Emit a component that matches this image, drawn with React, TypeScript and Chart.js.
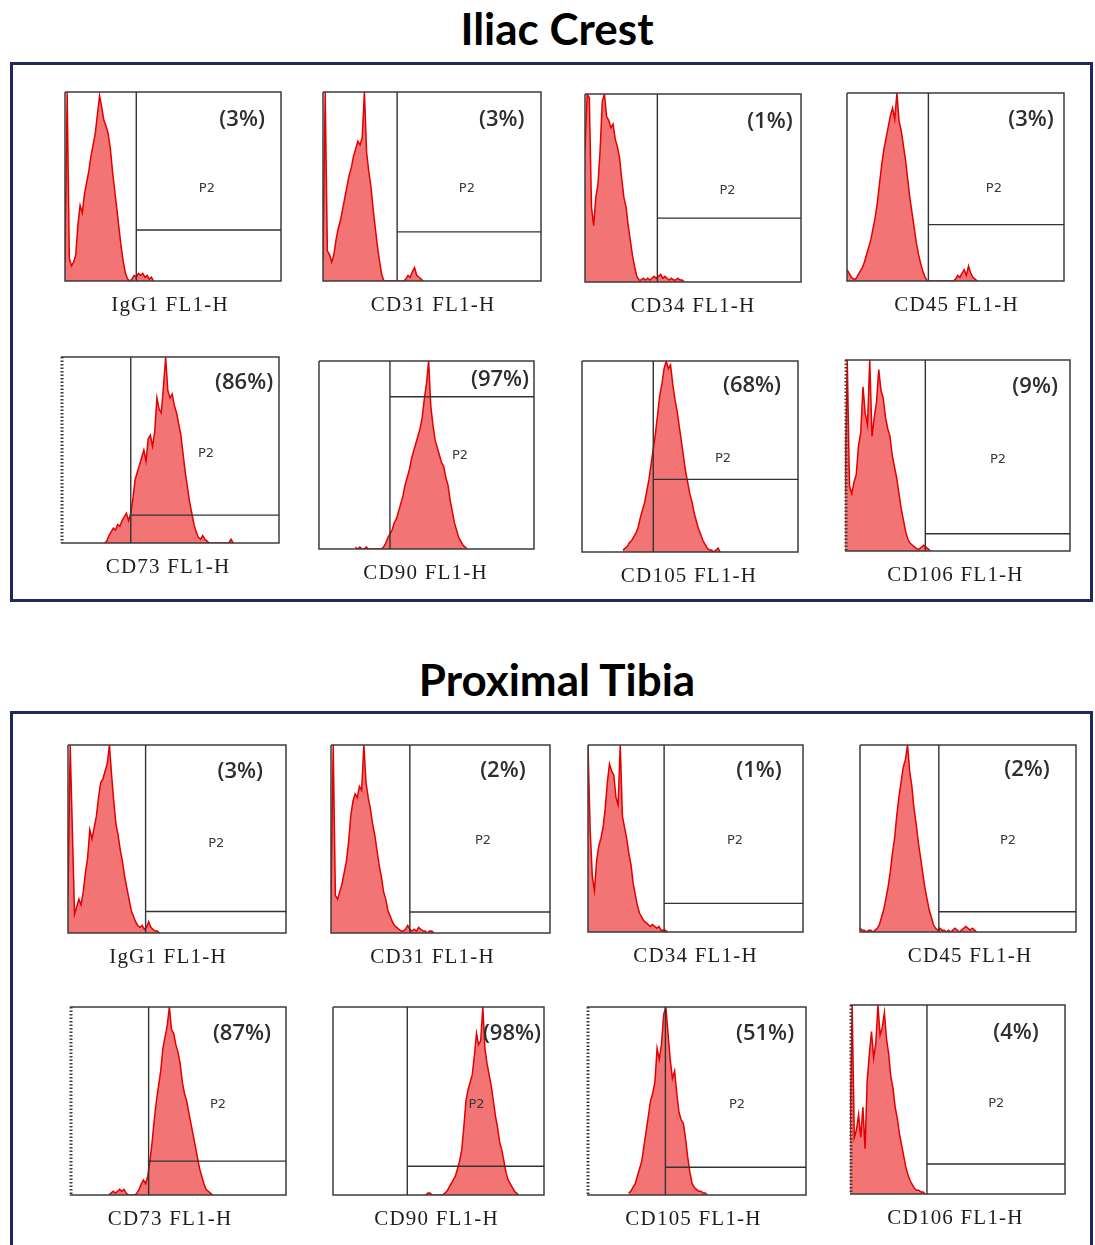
import React, { useEffect, useRef } from 'react';
import { Chart, registerables } from 'chart.js';

Chart.register(...registerables);

// ---------- DATA ----------
const panelTitles = ['Iliac Crest', 'Proximal Tibia'];
const markers = ['IgG1', 'CD31', 'CD34', 'CD45', 'CD73', 'CD90', 'CD105', 'CD106'];
const channel = 'FL1-H';
const gateName = 'P2';

const icPositive = ['(3%)', '(3%)', '(1%)', '(3%)', '(86%)', '(97%)', '(68%)', '(9%)'];
const ptPositive = ['(3%)', '(2%)', '(1%)', '(2%)', '(87%)', '(98%)', '(51%)', '(4%)'];

// gate (marker) positions in data units (x: channel 0-100, y: % of max count)
const icGateX = [33, 34, 33.5, 37.5, 32, 33, 33, 35.7];
const icGateY = [27, 26, 34, 30, 15, 81, 38, 9];
const ptGateX = [35.6, 36, 35.4, 36.5, 36.4, 35.2, 35.8, 35.8];
const ptGateY = [11.4, 11.2, 15.3, 10.8, 18, 15.3, 14.8, 15.9];

// first channel of each histogram array
const icStart = [0, 0, 0, 0, 20, 17, 19, 0];
const ptStart = [0, 0, 0, 0, 18, 44, 19, 0];

// Iliac Crest histograms (% of peak count per channel)
const icIgG1 = [10, 100, 12, 8, 10, 14, 30, 40, 36, 46, 52, 58, 66, 72, 78, 88, 98, 92, 85, 82, 78, 70, 58, 48, 38, 28, 18, 10, 4, 1, 0, 1, 3, 2, 4, 3, 4, 2, 3, 1, 2, 0];
const icCD31 = [12, 100, 16, 14, 10, 14, 22, 28, 32, 38, 44, 50, 56, 60, 66, 70, 74, 72, 76, 100, 68, 58, 50, 38, 28, 18, 10, 3, 0, 0, 0, 0, 0, 0, 0, 0, 0, 0, 1, 3, 2, 5, 7, 3, 2, 1, 0];
const icCD34 = [70, 100, 98, 40, 30, 45, 52, 70, 96, 100, 88, 86, 82, 84, 76, 72, 66, 55, 45, 40, 30, 22, 14, 8, 3, 1, 1, 2, 1, 2, 1, 2, 3, 2, 3, 4, 2, 3, 2, 1, 2, 1, 1, 2, 1, 1, 0];
const icCD45 = [6, 4, 2, 1, 1, 3, 5, 7, 10, 14, 18, 22, 28, 34, 42, 52, 62, 70, 76, 82, 88, 92, 86, 100, 85, 80, 72, 64, 54, 44, 36, 28, 20, 14, 9, 5, 2, 0, 0, 0, 0, 0, 0, 0, 0, 0, 0, 0, 0, 0, 1, 3, 2, 4, 6, 3, 8, 4, 2, 1, 0];
const icCD73 = [0, 1, 4, 6, 8, 7, 10, 9, 12, 14, 16, 12, 16, 24, 34, 38, 42, 46, 50, 44, 56, 58, 52, 60, 78, 72, 70, 84, 100, 82, 78, 80, 74, 70, 64, 58, 48, 38, 30, 22, 16, 10, 6, 3, 2, 4, 2, 1, 0, 0, 0, 0, 0, 0, 0, 0, 0, 0, 2, 0];
const icCD90 = [1, 0, 1, 0, 0, 1, 0, 0, 0, 0, 0, 0, 0, 1, 3, 6, 8, 10, 14, 16, 20, 24, 28, 34, 38, 42, 48, 52, 56, 60, 64, 70, 80, 88, 100, 76, 66, 58, 54, 50, 46, 44, 38, 34, 26, 20, 14, 10, 6, 4, 2, 1, 0];
const icCD105 = [1, 2, 3, 5, 6, 8, 10, 13, 18, 22, 26, 32, 38, 46, 54, 62, 72, 82, 88, 96, 100, 96, 98, 88, 80, 74, 66, 58, 50, 42, 36, 30, 26, 20, 16, 12, 9, 6, 4, 2, 1, 1, 0, 1, 2, 0];
const icCD106 = [30, 100, 34, 30, 36, 40, 55, 62, 86, 72, 66, 100, 60, 70, 78, 95, 84, 80, 70, 64, 60, 50, 44, 38, 30, 22, 16, 10, 6, 4, 3, 2, 1, 1, 2, 3, 2, 1, 0];

// Proximal Tibia histograms
const ptIgG1 = [20, 100, 55, 10, 14, 18, 15, 22, 32, 40, 55, 50, 56, 62, 72, 80, 82, 86, 90, 100, 84, 70, 58, 52, 44, 38, 30, 24, 18, 12, 9, 6, 4, 3, 4, 2, 3, 6, 3, 2, 1, 1, 0];
const ptCD31 = [18, 100, 20, 18, 22, 26, 32, 38, 48, 62, 70, 74, 72, 78, 76, 100, 80, 72, 66, 58, 52, 44, 36, 30, 22, 18, 12, 9, 6, 4, 3, 2, 1, 1, 2, 4, 2, 1, 2, 1, 3, 2, 1, 1, 0, 1, 1, 0];
const ptCD34 = [100, 55, 30, 22, 38, 46, 50, 56, 66, 80, 90, 86, 84, 72, 68, 100, 62, 56, 50, 42, 36, 26, 20, 14, 10, 8, 6, 5, 4, 3, 4, 3, 2, 3, 1, 1, 1, 0];
const ptCD45 = [2, 1, 1, 0, 1, 1, 0, 1, 2, 4, 8, 12, 18, 24, 32, 42, 50, 62, 72, 80, 88, 92, 100, 86, 78, 66, 58, 48, 40, 32, 24, 18, 12, 8, 4, 2, 1, 2, 1, 1, 0, 1, 0, 1, 2, 1, 0, 1, 2, 3, 2, 1, 2, 1, 0];
const ptCD73 = [0, 1, 2, 1, 2, 3, 2, 3, 1, 0, 0, 0, 0, 1, 3, 6, 8, 6, 10, 18, 28, 40, 50, 58, 66, 78, 84, 90, 100, 88, 86, 80, 76, 70, 60, 54, 50, 44, 38, 32, 26, 20, 14, 10, 6, 3, 2, 1, 0];
const ptCD90 = [0, 1, 1, 0, 0, 0, 0, 0, 0, 1, 2, 4, 6, 8, 10, 14, 18, 24, 36, 50, 56, 60, 64, 74, 86, 80, 82, 100, 78, 70, 64, 58, 50, 42, 36, 28, 24, 18, 12, 8, 6, 4, 2, 1, 0];
const ptCD105 = [1, 2, 4, 6, 10, 14, 18, 26, 34, 42, 50, 54, 60, 78, 72, 80, 96, 100, 86, 72, 62, 66, 54, 44, 40, 38, 30, 20, 12, 6, 4, 3, 2, 2, 1, 1, 0];
const ptCD106 = [28, 100, 30, 34, 42, 30, 46, 24, 60, 74, 86, 72, 80, 100, 84, 88, 96, 82, 74, 62, 56, 46, 40, 32, 26, 20, 14, 10, 7, 5, 3, 2, 2, 1, 1, 0];

const icSeries = [icIgG1, icCD31, icCD34, icCD45, icCD73, icCD90, icCD105, icCD106];
const ptSeries = [ptIgG1, ptCD31, ptCD34, ptCD45, ptCD73, ptCD90, ptCD105, ptCD106];

// ---------- LAYOUT ----------
// plot frames: [left, top, width, height] in page pixels
const icFrames = [
  [65, 92, 216, 187], [323, 92, 218, 187], [585, 94, 216, 186], [847, 93, 217, 186],
  [61, 357, 218, 184], [319, 361, 215, 186], [582, 361, 216, 189], [845, 360, 225, 189],
];
const ptFrames = [
  [68, 745, 218, 186], [331, 745, 219, 186], [588, 745, 215, 185], [860, 745, 216, 185],
  [70, 1007, 216, 186], [333, 1007, 211, 186], [587, 1007, 219, 186], [850, 1005, 215, 187],
];
// percentage label and P2 label anchor in axis units
const icPctPos = [[82, 85.5], [82, 85.5], [85.6, 85.5], [84.8, 86], [84, 86.4], [84.2, 89.8], [78.7, 87], [84.5, 86]];
const icP2Pos = [[65.7, 48.7], [66, 48.7], [66, 48.4], [67.7, 49], [66.5, 48], [65.6, 49.5], [65.3, 49], [68, 48]];
const ptPctPos = [[79, 86], [78.5, 86.5], [79.5, 86], [77.3, 87], [79.6, 86], [84.8, 86], [81.3, 86], [77.2, 85.5]];
const ptP2Pos = [[68, 47.8], [69.4, 49], [68.4, 48.6], [68.5, 49], [68.5, 48], [68, 48], [68.5, 48], [68, 47.6]];
const icLabelDx = [-3, 1, 0, 1, -2, -1, -1, -2];
const ptLabelDx = [-9, -8, 0, 2, -8, -2, -3, -2];
const icDotted = [false, false, false, false, true, false, false, true];
const ptDotted = [false, false, false, false, true, false, true, true];

const gatePlugin = {
  id: 'flowGate',
  afterDraw(chart: any, _args: any, o: any) {
    const { ctx, chartArea: a, scales } = chart;
    const xs = scales.x;
    const ys = scales.y;
    ctx.save();
    ctx.strokeStyle = '#3c3c3c';
    ctx.lineWidth = 1.5;
    ctx.beginPath();
    ctx.moveTo(a.left, a.top);
    ctx.lineTo(a.right, a.top);
    ctx.lineTo(a.right, a.bottom);
    ctx.lineTo(a.left, a.bottom);
    if (!o.dotted) ctx.lineTo(a.left, a.top);
    ctx.stroke();
    if (o.dotted) {
      ctx.setLineDash([1.5, 2]);
      ctx.lineWidth = 3;
      ctx.beginPath();
      ctx.moveTo(a.left + 1, a.top);
      ctx.lineTo(a.left + 1, a.bottom);
      ctx.stroke();
      ctx.setLineDash([]);
    }
    const gx = xs.getPixelForValue(o.gateX);
    const gy = ys.getPixelForValue(o.gateY);
    ctx.strokeStyle = '#333';
    ctx.lineWidth = 1.4;
    ctx.beginPath();
    ctx.moveTo(gx, a.top);
    ctx.lineTo(gx, a.bottom);
    ctx.moveTo(gx, gy);
    ctx.lineTo(a.right, gy);
    ctx.stroke();

    ctx.textAlign = 'center';
    ctx.textBaseline = 'middle';
    ctx.fillStyle = '#2e2e2e';
    ctx.font = '600 22px "Open Sans"';
    ctx.fillText(o.pct, xs.getPixelForValue(o.pctPos[0]), ys.getPixelForValue(o.pctPos[1]));
    ctx.fillStyle = '#3a3a3a';
    ctx.font = '13px "DejaVu Sans"';
    ctx.fillText(o.gate, xs.getPixelForValue(o.p2Pos[0]), ys.getPixelForValue(o.p2Pos[1]));
    ctx.fillStyle = '#1e1e1e';
    ctx.font = '21px "Liberation Serif"';
    try { ctx.letterSpacing = '1.2px'; } catch (e) { /* ignore */ }
    ctx.fillText(o.label, (a.left + a.right) / 2 + o.labelDx, a.bottom + 24);
    ctx.restore();
  },
};

type Spec = {
  values: number[]; start: number; gateX: number; gateY: number; pct: string; label: string;
  frame: number[]; pctPos: number[]; p2Pos: number[]; labelDx: number; dotted: boolean;
};

function buildSpecs(): Spec[] {
  const out: Spec[] = [];
  const groups = [
    { series: icSeries, start: icStart, gx: icGateX, gy: icGateY, pct: icPositive, frames: icFrames, pp: icPctPos, p2: icP2Pos, dx: icLabelDx, dot: icDotted },
    { series: ptSeries, start: ptStart, gx: ptGateX, gy: ptGateY, pct: ptPositive, frames: ptFrames, pp: ptPctPos, p2: ptP2Pos, dx: ptLabelDx, dot: ptDotted },
  ];
  groups.forEach((g) => {
    markers.forEach((m, i) => {
      out.push({
        values: g.series[i], start: g.start[i], gateX: g.gx[i], gateY: g.gy[i], pct: g.pct[i],
        label: m + ' ' + channel, frame: g.frames[i], pctPos: g.pp[i], p2Pos: g.p2[i], labelDx: g.dx[i], dotted: g.dot[i],
      });
    });
  });
  return out;
}

function Histogram({ spec }: { spec: Spec }) {
  const ref = useRef<HTMLCanvasElement | null>(null);
  useEffect(() => {
    if (!ref.current) return;
    const chart = new Chart(ref.current, {
      type: 'line',
      data: {
        datasets: [{
          data: spec.values.map((v, i) => ({ x: spec.start + i, y: v })),
          borderColor: '#e40000',
          borderWidth: 1.5,
          backgroundColor: 'rgba(241, 104, 104, 0.92)',
          fill: 'origin',
          pointRadius: 0,
          tension: 0,
        }],
      },
      options: {
        responsive: false,
        animation: false,
        devicePixelRatio: 1,
        events: [],
        layout: { padding: { left: 2, right: 2, top: 2, bottom: 42 } },
        scales: {
          x: { type: 'linear', min: 0, max: 100, display: false },
          y: { min: 0, max: 100, display: false },
        },
        plugins: {
          legend: { display: false },
          tooltip: { enabled: false },
          flowGate: {
            gateX: spec.gateX, gateY: spec.gateY, pct: spec.pct, gate: gateName, label: spec.label,
            pctPos: spec.pctPos, p2Pos: spec.p2Pos, labelDx: spec.labelDx, dotted: spec.dotted,
          },
        } as any,
      },
      plugins: [gatePlugin as any],
    });
    return () => chart.destroy();
  }, [spec]);
  const [x, y, w, h] = spec.frame;
  return (
    <canvas
      ref={ref}
      width={w + 4}
      height={h + 46}
      style={{ position: 'absolute', left: x - 2, top: y - 2 }}
    />
  );
}

const specs = buildSpecs();

const titleStyle = (top: number): React.CSSProperties => ({
  position: 'absolute', left: 0, top, width: 1114, textAlign: 'center',
  font: 'bold 44px Lato', lineHeight: '44px', color: '#000', whiteSpace: 'nowrap',
});
const panelStyle = (top: number, height: number): React.CSSProperties => ({
  position: 'absolute', left: 10, top, width: 1083, height, boxSizing: 'border-box',
  border: '3px solid #1c2b5e',
});

export default function App() {
  return (
    <div style={{ position: 'absolute', left: 0, top: 0, width: 1095, height: 1245, background: '#fff', overflow: 'hidden' }}>
      <div style={titleStyle(6)}>{panelTitles[0]}</div>
      <div style={panelStyle(62, 540)} />
      <div style={titleStyle(657)}>{panelTitles[1]}</div>
      <div style={panelStyle(711, 600)} />
      {specs.map((s, i) => <Histogram key={i} spec={s} />)}
    </div>
  );
}
